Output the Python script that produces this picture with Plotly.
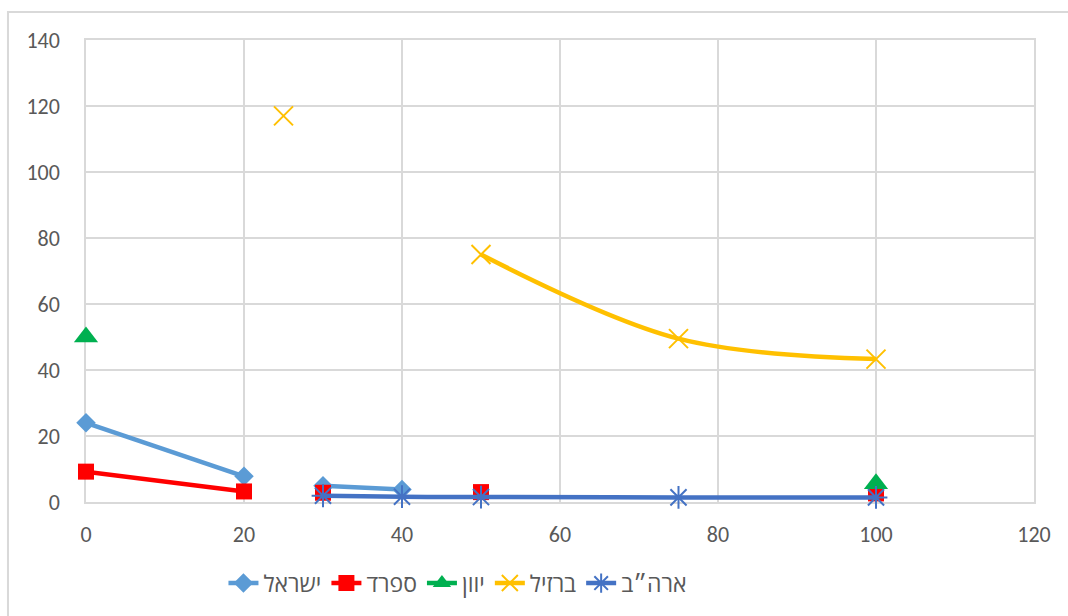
import plotly.graph_objects as go

# Shared x column; blanks (None) break the line as empty cells do
x_vals = [0, 20, 25, 30, 40, 50, 75, 100]

israel = [24, 7.8, None, 4.9, 3.8, None, None, None]
spain = [9.2, 3.2, None, 2.8, None, 3.0, None, 2.6]
greece = [50, None, None, None, None, None, None, 5.5]
brazil = [None, None, 117, None, None, 75, 49.5, 43.3]
usa = [None, None, None, 1.9, 1.6, 1.5, 1.4, 1.4]

names = ["ישראל", "ספרד", "יוון", "ברזיל", "ארה״ב"]

x_ticks = [0, 20, 40, 60, 80, 100, 120]
y_ticks = [0, 20, 40, 60, 80, 100, 120, 140]

FONT = "Calibri, Carlito, 'Open Sans', sans-serif"
GRID = "#D9D9D9"
TEXT = "#595959"

fig = go.Figure()

def add_series(values, name, color, marker):
    fig.add_trace(go.Scatter(
        x=x_vals, y=values, name=name, mode="lines+markers",
        line=dict(color=color, width=4.5, shape="spline"),
        marker=marker, connectgaps=False, cliponaxis=False))

add_series(israel, names[0], "#5B9BD5",
           dict(symbol="diamond", size=15, color="#5B9BD5"))
add_series(spain, names[1], "#FF0000",
           dict(symbol="square", size=16, color="#FF0000"))
add_series(greece, names[2], "#00B050",
           dict(symbol="triangle-up", size=21, color="#00B050"))
add_series(brazil, names[3], "#FFC000",
           dict(symbol="x-thin-open", size=19, color="#FFC000",
                line=dict(color="#FFC000", width=2)))
add_series(usa, names[4], "#4472C4",
           dict(symbol="asterisk-open", size=19, color="#4472C4",
                line=dict(color="#4472C4", width=2)))

axis_common = dict(
    showgrid=True, gridcolor=GRID, gridwidth=1.5,
    zeroline=False, showline=True, linecolor=GRID, linewidth=1.5,
    mirror=True, ticks="", layer="below traces",
    tickfont=dict(family=FONT, size=22, color=TEXT),
)

fig.update_layout(
    width=1068, height=616,
    margin=dict(l=86, r=34, t=40, b=113),
    paper_bgcolor="white", plot_bgcolor="white",
    font=dict(family=FONT, color=TEXT),
    xaxis=dict(range=[0, 120], tickvals=x_ticks, ticklabelstandoff=12,
               **axis_common),
    yaxis=dict(range=[0, 140], tickvals=y_ticks, ticklabelstandoff=20,
               **axis_common),
    showlegend=True,
    legend=dict(orientation="h", x=0.145, xanchor="left",
                y=-0.173, yanchor="middle",
                font=dict(family=FONT, size=23, color=TEXT),
                bgcolor="rgba(0,0,0,0)"),
    shapes=[dict(type="rect", xref="paper", yref="paper",
                 x0=-0.0823, x1=1.05, y0=-0.27, y1=1.0605,
                 line=dict(color=GRID, width=2), layer="below")],
)

fig.write_html("out.html")
